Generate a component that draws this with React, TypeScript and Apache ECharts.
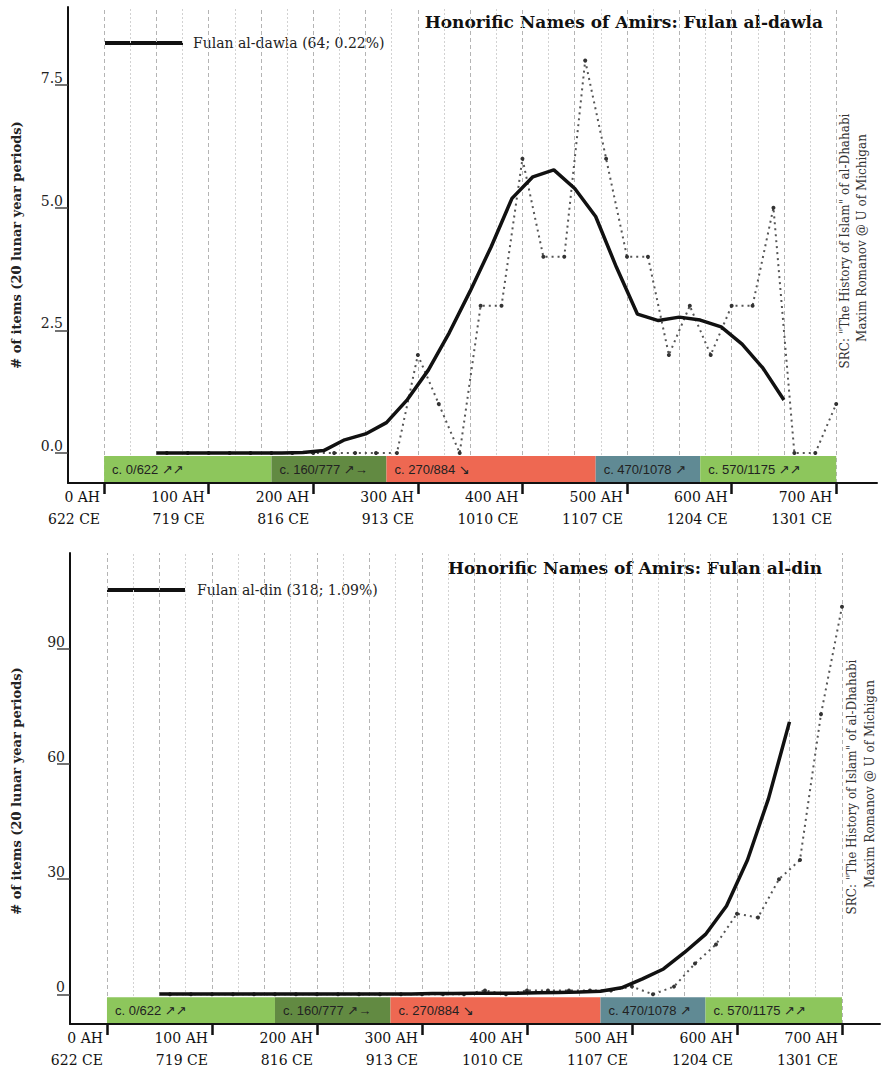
import React, { useEffect, useRef } from "react";
import * as echarts from "echarts";

// ---- data ----
const dottedAH = [60, 80, 100, 120, 140, 160, 180, 200, 220, 240, 260, 280, 300, 320, 340, 360, 380, 400, 420, 440, 460, 480, 500, 520, 540, 560, 580, 600, 620, 640, 660, 680, 700];
const dawlaCounts = [0, 0, 0, 0, 0, 0, 0, 0, 0, 0, 0, 0, 2, 1, 0, 3, 3, 6, 4, 4, 8, 6, 4, 4, 2, 3, 2, 3, 3, 5, 0, 0, 1];
const dinCounts = [0, 0, 0, 0, 0, 0, 0, 0, 0, 0, 0, 0, 0, 0, 0, 1, 0, 1, 1, 1, 1, 1, 2, 0, 2, 8, 13, 21, 20, 30, 35, 73, 101];

const smoothAH = [50, 70, 90, 110, 130, 150, 170, 190, 210, 230, 250, 270, 290, 310, 330, 350, 370, 390, 410, 430, 450, 470, 490, 510, 530, 550, 570, 590, 610, 630, 650];
const dawlaSmooth = [0, 0, 0, 0, 0, 0, 0, 0.01, 0.05, 0.27, 0.39, 0.62, 1.09, 1.69, 2.45, 3.3, 4.2, 5.19, 5.63, 5.77, 5.39, 4.82, 3.78, 2.83, 2.7, 2.77, 2.71, 2.57, 2.22, 1.73, 1.08];
const dinSmooth = [0.1, 0.1, 0.1, 0.1, 0.1, 0.1, 0.1, 0.1, 0.1, 0.1, 0.1, 0.1, 0.1, 0.2, 0.2, 0.3, 0.3, 0.3, 0.4, 0.5, 0.6, 0.8, 1.7, 4.0, 6.6, 10.9, 15.6, 23, 35, 51, 71];

const gridLinesAH = [0, 25, 50, 75, 100, 125, 150, 175, 200, 225, 250, 275, 300, 325, 350, 375, 400, 425, 450, 475, 500, 525, 550, 575, 600, 625, 650, 675, 700];
const tickAH = [0, 100, 200, 300, 400, 500, 600, 700];
const tickCE = [622, 719, 816, 913, 1010, 1107, 1204, 1301];

const periodStarts = [0, 160, 270, 470, 570];
const periodEnds = [160, 270, 470, 570, 700];
const periodLabels = ["c. 0/622 \u2197\u2197", "c. 160/777 \u2197\u2192", "c. 270/884 \u2198", "c. 470/1078 \u2197", "c. 570/1175 \u2197\u2197"];
const periodColors = ["#8dc65c", "#628a42", "#ee6852", "#608a94", "#8dc65c"];

const dawlaTicks = [0, 2.5, 5, 7.5];
const dinTicks = [0, 30, 60, 90];

const titles = ["Honorific Names of Amirs: Fulan al-dawla", "Honorific Names of Amirs: Fulan al-din"];
const legendNames = ["Fulan al-dawla (64; 0.22%)", "Fulan al-din (318; 1.09%)"];
const yName = "# of items (20 lunar year periods)";
const srcLine1 = 'SRC: "The History of Islam" of al-Dhahabi';
const srcLine2 = "Maxim Romanov @ U of Michigan";

const SERIF = "'DejaVu Serif', 'Liberation Serif', serif";

function zip(xs: number[], ys: number[]) {
  return xs.map((x, i) => [x, ys[i]]);
}

export default function App() {
  const ref = useRef<HTMLDivElement>(null);

  useEffect(() => {
    if (!ref.current) return;
    const chart = echarts.init(ref.current, null, { renderer: "svg" });

    const grids = [
      { left: 68, top: 7, width: 809, height: 476 },
      { left: 70, top: 553, width: 810, height: 476 },
    ];
    const xRanges = [
      [-34.5, 739],
      [-35.2, 736.2],
    ];
    const yRanges = [
      [-0.61, 9.09],
      [-7.74, 115],
    ];
    const yTicks = [dawlaTicks, dinTicks];

    const xAxes = grids.map((_, g) => ({
      type: "value",
      gridIndex: g,
      min: xRanges[g][0],
      max: xRanges[g][1],
      z: 10,
      splitLine: { show: false },
      axisLine: { onZero: false, lineStyle: { color: "#111", width: 2 } },
      axisTick: { show: true, inside: false, customValues: tickAH, length: 11, lineStyle: { color: "#111", width: 2.5 } },
      axisLabel: {
        customValues: tickAH,
        formatter: (v: number) => {
          const i = tickAH.indexOf(v);
          return `${v} AH\n${tickCE[i]} CE`;
        },
        align: "right",
        padding: [0, 4, 0, 0],
        margin: 3,
        lineHeight: 22,
        fontFamily: SERIF,
        fontSize: 14,
        color: "#111",
      },
    }));

    const yAxes = grids.map((_, g) => ({
      type: "value",
      gridIndex: g,
      min: yRanges[g][0],
      max: yRanges[g][1],
      z: 10,
      splitLine: { show: false },
      axisLine: { onZero: false, lineStyle: { color: "#111", width: 2 } },
      axisTick: { show: true, inside: false, customValues: yTicks[g], length: 13, lineStyle: { color: "#444", width: 1.5 } },
      axisLabel: {
        customValues: yTicks[g],
        formatter: (v: number) => (g === 0 ? v.toFixed(1) : String(v)),
        margin: 5,
        verticalAlign: "bottom",
        fontFamily: SERIF,
        fontSize: 14,
        color: "#222",
      },
    }));

    const countsArr = [dawlaCounts, dinCounts];
    const smoothArr = [dawlaSmooth, dinSmooth];

    const series: any[] = [];
    grids.forEach((_, g) => {
      series.push({
        type: "line",
        xAxisIndex: g,
        yAxisIndex: g,
        z: 2,
        data: zip(dottedAH, countsArr[g]),
        symbol: "circle",
        symbolSize: 4,
        itemStyle: { color: "#333" },
        lineStyle: { color: "#555", width: 2, type: [2, 4] },
        silent: true,
        markLine: {
          silent: true,
          z: 1,
          symbol: ["none", "none"],
          label: { show: false },
          emphasis: { disabled: true },
          data: gridLinesAH.map((v) => ({
            xAxis: v,
            lineStyle:
              v % 50 === 0
                ? { color: "#b4b4b4", width: 1, type: [4, 3] }
                : { color: "#d2d2d2", width: 1, type: [2, 2] },
          })),
        },
      });
      series.push({
        type: "line",
        xAxisIndex: g,
        yAxisIndex: g,
        z: 4,
        data: zip(smoothAH, smoothArr[g]),
        symbol: "none",
        lineStyle: { color: "#111", width: 3.5 },
        silent: true,
      });
      series.push({
        type: "custom",
        xAxisIndex: g,
        yAxisIndex: g,
        z: 6,
        silent: true,
        data: periodStarts.map((s, i) => [s, periodEnds[i], i]),
        encode: { x: [0, 1], y: [] },
        renderItem: (params: any, api: any) => {
          const s = api.value(0);
          const e = api.value(1);
          const idx = api.value(2);
          const p0 = api.coord([s, 0]);
          const p1 = api.coord([e, 0]);
          const cs = params.coordSys;
          const yTop = p0[1] + 3;
          const yBottom = cs.y + cs.height - 1;
          return {
            type: "group",
            children: [
              {
                type: "rect",
                shape: { x: p0[0], y: yTop, width: p1[0] - p0[0], height: yBottom - yTop },
                style: { fill: periodColors[idx] },
              },
              {
                type: "text",
                style: {
                  text: periodLabels[idx],
                  x: p0[0] + 8,
                  y: (yTop + yBottom) / 2,
                  verticalAlign: "middle",
                  align: "left",
                  fill: "#222",
                  fontFamily: "'Liberation Sans Narrow', 'Liberation Sans', 'DejaVu Sans', sans-serif",
                  fontSize: 13,
                },
              },
            ],
          };
        },
      });
    });

    const titlePos = [
      { x: 823, y: 22 },
      { x: 822, y: 568 },
    ];
    const legendPos = [
      { x1: 105, x2: 183, y: 43, tx: 193 },
      { x1: 107, x2: 185, y: 590, tx: 197 },
    ];
    const yNamePos = [
      { x: 16, y: 245 },
      { x: 16, y: 791 },
    ];
    const srcPos = [
      { x1: 845, x2: 862, y: 241 },
      { x1: 852, x2: 870, y: 787 },
    ];

    const graphic: any[] = [];
    grids.forEach((_, g) => {
      graphic.push({
        type: "text",
        x: titlePos[g].x,
        y: titlePos[g].y,
        silent: true,
        style: {
          text: titles[g],
          align: "right",
          verticalAlign: "middle",
          fill: "#111",
          fontFamily: SERIF,
          fontWeight: "bold",
          fontSize: 17,
        },
      });
      graphic.push({
        type: "line",
        silent: true,
        shape: { x1: legendPos[g].x1, y1: legendPos[g].y, x2: legendPos[g].x2, y2: legendPos[g].y },
        style: { stroke: "#111", lineWidth: 4 },
      });
      graphic.push({
        type: "text",
        x: legendPos[g].tx,
        y: legendPos[g].y,
        silent: true,
        style: {
          text: legendNames[g],
          align: "left",
          verticalAlign: "middle",
          fill: "#222",
          fontFamily: SERIF,
          fontSize: 14,
        },
      });
      graphic.push({
        type: "text",
        x: yNamePos[g].x,
        y: yNamePos[g].y,
        rotation: Math.PI / 2,
        silent: true,
        style: {
          text: yName,
          align: "center",
          verticalAlign: "middle",
          fill: "#222",
          fontFamily: SERIF,
          fontWeight: "bold",
          fontSize: 13,
        },
      });
      graphic.push({
        type: "text",
        x: srcPos[g].x1,
        y: srcPos[g].y,
        rotation: Math.PI / 2,
        silent: true,
        style: {
          text: srcLine1,
          align: "center",
          verticalAlign: "middle",
          fill: "#333",
          fontFamily: SERIF,
          fontSize: 12,
        },
      });
      graphic.push({
        type: "text",
        x: srcPos[g].x2,
        y: srcPos[g].y - 3,
        rotation: Math.PI / 2,
        silent: true,
        style: {
          text: srcLine2,
          align: "center",
          verticalAlign: "middle",
          fill: "#333",
          fontFamily: SERIF,
          fontSize: 12,
        },
      });
    });

    chart.setOption({
      animation: false,
      backgroundColor: "#ffffff",
      grid: grids,
      xAxis: xAxes,
      yAxis: yAxes,
      series,
      graphic,
    });

    return () => {
      chart.dispose();
    };
  }, []);

  return (
    <div
      ref={ref}
      style={{ position: "absolute", left: 0, top: 0, width: 881, height: 1071, background: "#fff" }}
    />
  );
}
